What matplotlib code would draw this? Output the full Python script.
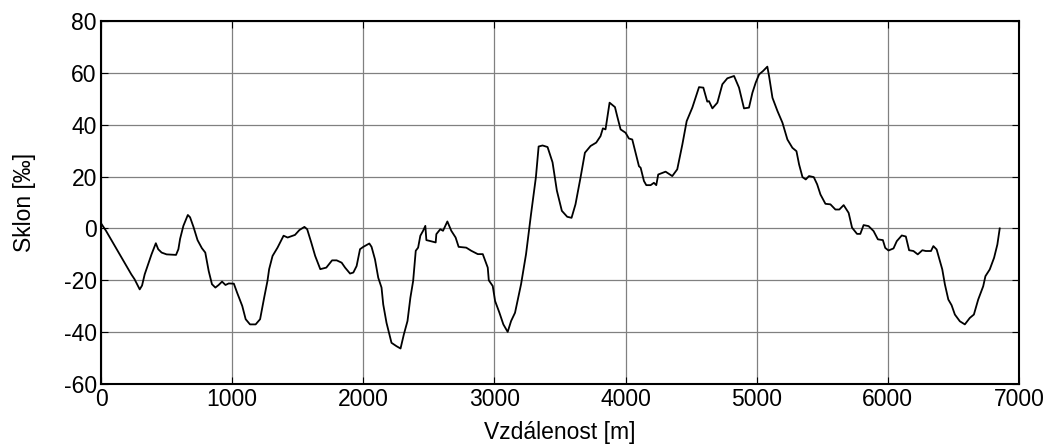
import matplotlib
matplotlib.use("Agg")
import matplotlib.pyplot as plt

distance_m = [0, 38, 231, 256, 295, 313, 333, 385, 418, 436, 462, 500, 572, 590, 603, 628, 662, 679, 705, 736,
              769, 795, 821, 846, 872, 897, 923, 949, 974, 1013, 1038, 1077, 1103, 1136, 1179, 1213, 1244, 1269,
              1282, 1308, 1346, 1392, 1423, 1479, 1513, 1551, 1572, 1603, 1633, 1672, 1718, 1762, 1797, 1835,
              1861, 1899, 1924, 1949, 1975, 2000, 2046, 2063, 2089, 2114, 2139, 2152, 2177, 2215, 2253, 2284,
              2309, 2337, 2359, 2380, 2400, 2418, 2435, 2456, 2473, 2481, 2506, 2552, 2557, 2587, 2608, 2641,
              2671, 2704, 2727, 2785, 2823, 2873, 2911, 2949, 2957, 2987, 3005, 3038, 3068, 3101, 3127, 3157,
              3203, 3241, 3279, 3316, 3337, 3367, 3405, 3443, 3476, 3514, 3555, 3588, 3618, 3656, 3690, 3733,
              3776, 3809, 3827, 3847, 3878, 3919, 3936, 3962, 4000, 4025, 4051, 4076, 4102, 4115, 4140, 4158,
              4191, 4216, 4234, 4249, 4305, 4356, 4394, 4433, 4466, 4509, 4560, 4593, 4623, 4636, 4662, 4700,
              4738, 4776, 4827, 4865, 4903, 4941, 4967, 4992, 5018, 5048, 5081, 5094, 5120, 5158, 5196, 5234,
              5272, 5303, 5323, 5349, 5374, 5399, 5435, 5461, 5486, 5524, 5562, 5600, 5630, 5663, 5701, 5727,
              5765, 5790, 5815, 5853, 5891, 5924, 5962, 5980, 6005, 6043, 6068, 6106, 6137, 6162, 6195, 6228,
              6263, 6289, 6329, 6347, 6372, 6415, 6435, 6461, 6486, 6511, 6549, 6587, 6625, 6656, 6689, 6727,
              6744, 6777, 6810, 6835, 6853]
slope_permille = [2, -0.9, -17.7, -19.6, -23.5, -22, -17.7, -10, -5.7, -8, -9.3, -10, -10.2, -8, -4, 1, 5.2, 4.3,
                  0.6, -4.5, -7.6, -9.3, -16.4, -21.5, -22.8, -21.8, -20.5, -21.8, -21.2, -21.3, -24.8, -29.9,
                  -35, -37, -37, -35, -26.7, -20.3, -15.7, -10.6, -7.4, -2.8, -3.5, -2.5, -0.6, 0.6, -0.3, -5.4,
                  -10.6, -15.7, -15.1, -12.3, -12.3, -13.2, -15.1, -17.4, -17, -14.5, -8, -7.1, -5.8, -7.1,
                  -11.9, -19, -22.8, -29.3, -36.4, -44.1, -45.4, -46.3, -40.9, -35.7, -26.7, -20.3, -8.6, -7.4,
                  -2.8, -0.9, 1, -4.5, -4.8, -5.4, -2.2, -0.3, -0.9, 2.7, -0.9, -3.5, -7.1, -7.4, -8.6, -9.9,
                  -9.9, -15.1, -20, -22.2, -28, -32.5, -37, -39.9, -35.7, -32.5, -21.5, -9.9, 5.5, 19.7, 31.6,
                  32, 31.4, 25.5, 14.6, 6.8, 4.5, 4.1, 9.3, 19.5, 29.2, 31.8, 33.1, 35.6, 38.6, 38.2, 48.5, 46.8,
                  43.3, 38.2, 36.9, 34.7, 34.3, 29.2, 24, 23.4, 18.3, 16.7, 16.7, 17.6, 16.7, 20.8, 21.9, 20.2,
                  22.8, 32.4, 41.4, 46.6, 54.5, 54.3, 48.9, 49.1, 46.3, 48.5, 55.6, 57.9, 58.8, 54.3, 46.3, 46.6,
                  52.3, 56.2, 59.4, 60.7, 62.4, 58.8, 50.4, 45.3, 40.8, 34.3, 31.1, 29.8, 24.7, 19.8, 18.9, 20.2,
                  19.8, 17, 13.1, 9.5, 9.3, 7.3, 7.3, 9, 6.0, 0.3, -2.1, -2.1, 1.3, 0.9, -1, -4.2, -4.5, -7.5,
                  -8.5, -7.7, -4.9, -2.7, -3.1, -8.4, -8.7, -10, -8.4, -8.7, -8.7, -6.8, -8.1, -15.8, -21.6,
                  -27.4, -29.6, -33.2, -35.8, -37, -34.5, -33.2, -27.4, -22.3, -18.4, -15.8, -11.3, -6.2, 0]

x_ticks = [0, 1000, 2000, 3000, 4000, 5000, 6000, 7000]
y_ticks = [-60, -40, -20, 0, 20, 40, 60, 80]
x_label = "Vzdálenost [m]"
y_label = "Sklon [‰]"

plt.rcParams['font.family'] = ['Liberation Sans', 'DejaVu Sans']
plt.rcParams['axes.unicode_minus'] = False

fig = plt.figure(figsize=(10.49, 4.45), dpi=100)
ax = fig.add_axes([0.0963, 0.137, 0.8751, 0.8158])
ax.plot(distance_m, slope_permille, color='black', linewidth=1.3)
ax.set_xlim(0, 7000)
ax.set_ylim(-60, 80)
ax.set_xticks(x_ticks)
ax.set_yticks(y_ticks)
ax.grid(True, color='#808080', linewidth=0.9, linestyle='-')
ax.tick_params(direction='in', length=5, width=0.8, top=True, right=True,
               labelsize=16.5, pad=3, colors='black')
for s in ax.spines.values():
    s.set_linewidth(1.5)
    s.set_color('black')
ax.set_xlabel(x_label, fontsize=16.5, labelpad=7)
ax.set_ylabel(y_label, fontsize=16.5, labelpad=20)
fig.savefig("out.png", dpi=100)
